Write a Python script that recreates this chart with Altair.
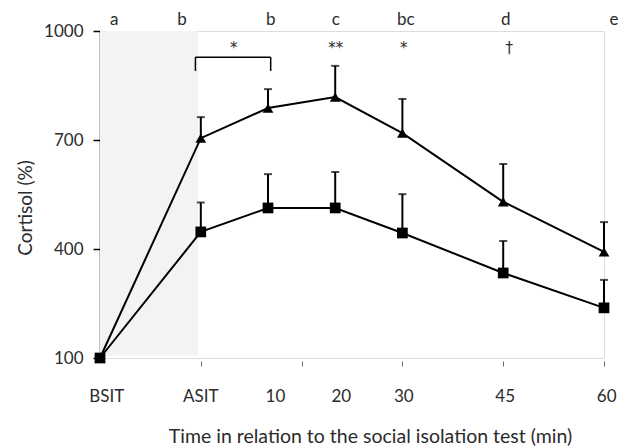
import altair as alt
import pandas as pd

# ---- data ----
times = [-15, 0, 10, 20, 30, 45, 60]
tick_labels = ["BSIT", "ASIT", "10", "20", "30", "45", "60"]
label_pos = [-14, 0, 11.1, 20.9, 30.2, 45.3, 60.4]
tri_mean = [100, 705, 788, 818, 719, 530, 392]
tri_upper = [None, 763, 840, 904, 813, 634, 474]
sq_mean = [100, 447, 513, 513, 444, 334, 238]
sq_upper = [None, 528, 606, 612, 551, 422, 315]
letters = ["a", "b", "b", "c", "bc", "d", "e"]
letter_pos = [-12.9, -2.8, 10.4, 20.1, 30.5, 45.4, 61.5]
sig_marks = ["*", "**", "*", "†"]
sig_pos = [4.9, 20.1, 30.2, 45.9]
axis_ticks = [0, 15, 30, 45, 60]
shade_x = [-15, -0.4]
shade_y = [106, 1000]
bracket_x = [-0.8, 10.4]
bracket_y = [890, 928]
letter_y = 1030
sig_y = 964

FONT = "Lato"
TXT = "#2b2b2b"

rows = []
for name, m, u in [("tri", tri_mean, tri_upper), ("sq", sq_mean, sq_upper)]:
    for t, mv, uv in zip(times, m, u):
        rows.append({"series": name, "t": t, "mean": mv, "upper": uv})
df = pd.DataFrame(rows)
err = df.dropna(subset=["upper"])

W, H = 504, 327
xs = alt.Scale(domain=[-15, 60], nice=False, zero=False)
ys = alt.Scale(domain=[100, 1000], nice=False, zero=False)

shade = alt.Chart(pd.DataFrame({"x": [shade_x[0]], "x2": [shade_x[1]],
                                "y": [shade_y[0]], "y2": [shade_y[1]]})).mark_rect(
    color="#f2f3f5").encode(
    x=alt.X("x:Q", scale=xs,
            axis=alt.Axis(values=axis_ticks, labels=False, domain=False, grid=False,
                          ticks=True, tickSize=5, tickColor="#666", tickWidth=1,
                          offset=3, title="Time in relation to the social isolation test (min)",
                          titleFont=FONT, titleFontSize=19.5, titleFontWeight="normal",
                          titleColor=TXT, titleBaseline="middle", titleY=75, titleX=270)),
    x2="x2:Q",
    y=alt.Y("y:Q", scale=ys,
            axis=alt.Axis(values=[100, 400, 700, 1000], format="d", grid=False, domainColor="black",
                          domainWidth=1.5, tickColor="black", tickWidth=1.5, tickSize=7,
                          labelFont=FONT, labelFontSize=17, labelColor=TXT, labelPadding=10,
                          title="Cortisol (%)", titleFont=FONT, titleFontSize=19,
                          titleFontWeight="normal", titleColor=TXT, titlePadding=8,
                          titleY=H / 2 + 13)),
    y2="y2:Q",
)

lines = alt.Chart(df).mark_line(color="black", strokeWidth=2).encode(
    x=alt.X("t:Q", scale=xs), y=alt.Y("mean:Q", scale=ys), detail="series:N")

bars = alt.Chart(err).mark_rule(color="black", strokeWidth=2).encode(
    x=alt.X("t:Q", scale=xs), y=alt.Y("mean:Q", scale=ys), y2="upper:Q")

caps = alt.Chart(err).mark_tick(color="black", orient="horizontal", size=8, thickness=2).encode(
    x=alt.X("t:Q", scale=xs), y=alt.Y("upper:Q", scale=ys))

pts = alt.Chart(df).mark_point(filled=True, opacity=1, color="black", size=115).encode(
    x=alt.X("t:Q", scale=xs), y=alt.Y("mean:Q", scale=ys),
    shape=alt.Shape("series:N", scale=alt.Scale(domain=["tri", "sq"],
                                                 range=["triangle-up", "square"]), legend=None))

bdf = pd.DataFrame({"x": [bracket_x[0], bracket_x[0], bracket_x[1]],
                    "x2": [bracket_x[1], bracket_x[0], bracket_x[1]],
                    "y": [bracket_y[1], bracket_y[0], bracket_y[0]],
                    "y2": [bracket_y[1], bracket_y[1], bracket_y[1]]})
bracket = alt.Chart(bdf).mark_rule(color="black", strokeWidth=1.5).encode(
    x=alt.X("x:Q", scale=xs), x2="x2:Q", y=alt.Y("y:Q", scale=ys), y2="y2:Q")

ldf = pd.DataFrame({"x": letter_pos, "txt": letters, "y": [letter_y] * len(letters)})
letter_txt = alt.Chart(ldf).mark_text(font=FONT, fontSize=17, color=TXT, baseline="middle").encode(
    x=alt.X("x:Q", scale=xs), y=alt.Y("y:Q", scale=ys), text="txt:N")

sdf = pd.DataFrame({"x": sig_pos, "txt": sig_marks, "y": [sig_y] * len(sig_marks)})
sig_txt = alt.Chart(sdf).mark_text(font="DejaVu Sans", fontSize=15, color=TXT, baseline="middle", dy=4).encode(
    x=alt.X("x:Q", scale=xs), y=alt.Y("y:Q", scale=ys), text="txt:N")

tdf = pd.DataFrame({"x": label_pos, "txt": tick_labels})
tick_txt = alt.Chart(tdf).mark_text(font=FONT, fontSize=17, color=TXT, baseline="middle").encode(
    x=alt.X("x:Q", scale=xs), y=alt.value(H + 39), text="txt:N")

chart = alt.layer(shade, lines, bars, caps, pts, bracket, letter_txt, sig_txt, tick_txt).properties(
    width=W, height=H,
    autosize=alt.AutoSizeParams(type="none"),
    padding={"left": 92, "top": 23, "right": 19, "bottom": 90},
).configure_view(stroke=None).configure(background="white")

chart.save("out.html", embed_options={"renderer": "svg", "actions": False})
